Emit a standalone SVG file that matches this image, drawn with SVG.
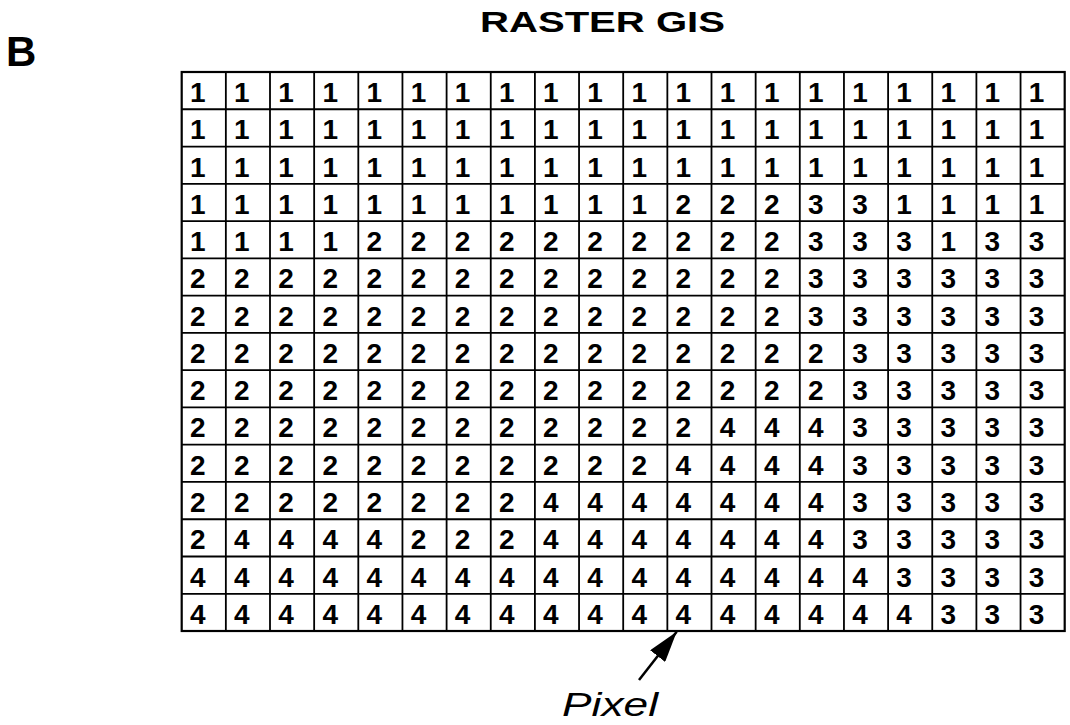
<svg xmlns="http://www.w3.org/2000/svg" width="1070" height="725" viewBox="0 0 1070 725">
<defs>
<style>
.t{font-family:"Liberation Sans",Arial,sans-serif;font-weight:bold;fill:#000}
.d{font-family:"Liberation Sans",Arial,sans-serif;font-weight:bold;font-size:28px;fill:#000;text-anchor:middle}
.gl{stroke:#000;stroke-width:1.8;fill:none}
.ob{stroke:#000;stroke-width:2.2;fill:none}
.lbl{font-family:"Liberation Sans",Arial,sans-serif;font-style:italic;font-size:33px;fill:#000}
</style>
<marker id="ah" viewBox="0 0 10 10" refX="10" refY="5" markerWidth="31" markerHeight="19" markerUnits="userSpaceOnUse" orient="auto" preserveAspectRatio="none">
<path d="M0,0 L10,5 L0,10 z" fill="#000"/>
</marker>
</defs>
<rect width="1070" height="725" fill="#fff"/>
<g id="label-b"><text class="t" x="6" y="66" font-size="42">B</text></g>
<g id="title"><text class="t" x="480" y="32" font-size="30" textLength="245" lengthAdjust="spacingAndGlyphs">RASTER GIS</text></g>
<g id="grid">
<path class="gl" d="M225.85,72V631M270,72V631M314.15,72V631M358.3,72V631M402.45,72V631M446.6,72V631M490.75,72V631M534.9,72V631M579.05,72V631M623.2,72V631M667.35,72V631M711.5,72V631M755.65,72V631M799.8,72V631M843.95,72V631M888.1,72V631M932.25,72V631M976.4,72V631M1020.55,72V631"/>
<path class="gl" d="M181.7,109.27H1064.7M181.7,146.54H1064.7M181.7,183.81H1064.7M181.7,221.08H1064.7M181.7,258.35H1064.7M181.7,295.62H1064.7M181.7,332.89H1064.7M181.7,370.16H1064.7M181.7,407.43H1064.7M181.7,444.7H1064.7M181.7,481.97H1064.7M181.7,519.24H1064.7M181.7,556.51H1064.7M181.7,593.78H1064.7"/>
<rect class="ob" x="181.7" y="72" width="883" height="559"/>
</g>
<g id="cells">
<g id="row1" transform="translate(0,102)">
<text class="d" x="197.7">1</text><text class="d" x="241.9">1</text><text class="d" x="286">1</text><text class="d" x="330.2">1</text><text class="d" x="374.3">1</text><text class="d" x="418.5">1</text><text class="d" x="462.6">1</text><text class="d" x="506.8">1</text><text class="d" x="550.9">1</text><text class="d" x="595.1">1</text><text class="d" x="639.2">1</text><text class="d" x="683.4">1</text><text class="d" x="727.5">1</text><text class="d" x="771.7">1</text><text class="d" x="815.8">1</text><text class="d" x="860">1</text><text class="d" x="904.1">1</text><text class="d" x="948.3">1</text><text class="d" x="992.4">1</text><text class="d" x="1036.6">1</text>
</g>
<g id="row2" transform="translate(0,139.3)">
<text class="d" x="197.7">1</text><text class="d" x="241.9">1</text><text class="d" x="286">1</text><text class="d" x="330.2">1</text><text class="d" x="374.3">1</text><text class="d" x="418.5">1</text><text class="d" x="462.6">1</text><text class="d" x="506.8">1</text><text class="d" x="550.9">1</text><text class="d" x="595.1">1</text><text class="d" x="639.2">1</text><text class="d" x="683.4">1</text><text class="d" x="727.5">1</text><text class="d" x="771.7">1</text><text class="d" x="815.8">1</text><text class="d" x="860">1</text><text class="d" x="904.1">1</text><text class="d" x="948.3">1</text><text class="d" x="992.4">1</text><text class="d" x="1036.6">1</text>
</g>
<g id="row3" transform="translate(0,176.5)">
<text class="d" x="197.7">1</text><text class="d" x="241.9">1</text><text class="d" x="286">1</text><text class="d" x="330.2">1</text><text class="d" x="374.3">1</text><text class="d" x="418.5">1</text><text class="d" x="462.6">1</text><text class="d" x="506.8">1</text><text class="d" x="550.9">1</text><text class="d" x="595.1">1</text><text class="d" x="639.2">1</text><text class="d" x="683.4">1</text><text class="d" x="727.5">1</text><text class="d" x="771.7">1</text><text class="d" x="815.8">1</text><text class="d" x="860">1</text><text class="d" x="904.1">1</text><text class="d" x="948.3">1</text><text class="d" x="992.4">1</text><text class="d" x="1036.6">1</text>
</g>
<g id="row4" transform="translate(0,213.8)">
<text class="d" x="197.7">1</text><text class="d" x="241.9">1</text><text class="d" x="286">1</text><text class="d" x="330.2">1</text><text class="d" x="374.3">1</text><text class="d" x="418.5">1</text><text class="d" x="462.6">1</text><text class="d" x="506.8">1</text><text class="d" x="550.9">1</text><text class="d" x="595.1">1</text><text class="d" x="639.2">1</text><text class="d" x="683.4">2</text><text class="d" x="727.5">2</text><text class="d" x="771.7">2</text><text class="d" x="815.8">3</text><text class="d" x="860">3</text><text class="d" x="904.1">1</text><text class="d" x="948.3">1</text><text class="d" x="992.4">1</text><text class="d" x="1036.6">1</text>
</g>
<g id="row5" transform="translate(0,251.1)">
<text class="d" x="197.7">1</text><text class="d" x="241.9">1</text><text class="d" x="286">1</text><text class="d" x="330.2">1</text><text class="d" x="374.3">2</text><text class="d" x="418.5">2</text><text class="d" x="462.6">2</text><text class="d" x="506.8">2</text><text class="d" x="550.9">2</text><text class="d" x="595.1">2</text><text class="d" x="639.2">2</text><text class="d" x="683.4">2</text><text class="d" x="727.5">2</text><text class="d" x="771.7">2</text><text class="d" x="815.8">3</text><text class="d" x="860">3</text><text class="d" x="904.1">3</text><text class="d" x="948.3">1</text><text class="d" x="992.4">3</text><text class="d" x="1036.6">3</text>
</g>
<g id="row6" transform="translate(0,288.4)">
<text class="d" x="197.7">2</text><text class="d" x="241.9">2</text><text class="d" x="286">2</text><text class="d" x="330.2">2</text><text class="d" x="374.3">2</text><text class="d" x="418.5">2</text><text class="d" x="462.6">2</text><text class="d" x="506.8">2</text><text class="d" x="550.9">2</text><text class="d" x="595.1">2</text><text class="d" x="639.2">2</text><text class="d" x="683.4">2</text><text class="d" x="727.5">2</text><text class="d" x="771.7">2</text><text class="d" x="815.8">3</text><text class="d" x="860">3</text><text class="d" x="904.1">3</text><text class="d" x="948.3">3</text><text class="d" x="992.4">3</text><text class="d" x="1036.6">3</text>
</g>
<g id="row7" transform="translate(0,325.6)">
<text class="d" x="197.7">2</text><text class="d" x="241.9">2</text><text class="d" x="286">2</text><text class="d" x="330.2">2</text><text class="d" x="374.3">2</text><text class="d" x="418.5">2</text><text class="d" x="462.6">2</text><text class="d" x="506.8">2</text><text class="d" x="550.9">2</text><text class="d" x="595.1">2</text><text class="d" x="639.2">2</text><text class="d" x="683.4">2</text><text class="d" x="727.5">2</text><text class="d" x="771.7">2</text><text class="d" x="815.8">3</text><text class="d" x="860">3</text><text class="d" x="904.1">3</text><text class="d" x="948.3">3</text><text class="d" x="992.4">3</text><text class="d" x="1036.6">3</text>
</g>
<g id="row8" transform="translate(0,362.9)">
<text class="d" x="197.7">2</text><text class="d" x="241.9">2</text><text class="d" x="286">2</text><text class="d" x="330.2">2</text><text class="d" x="374.3">2</text><text class="d" x="418.5">2</text><text class="d" x="462.6">2</text><text class="d" x="506.8">2</text><text class="d" x="550.9">2</text><text class="d" x="595.1">2</text><text class="d" x="639.2">2</text><text class="d" x="683.4">2</text><text class="d" x="727.5">2</text><text class="d" x="771.7">2</text><text class="d" x="815.8">2</text><text class="d" x="860">3</text><text class="d" x="904.1">3</text><text class="d" x="948.3">3</text><text class="d" x="992.4">3</text><text class="d" x="1036.6">3</text>
</g>
<g id="row9" transform="translate(0,400.2)">
<text class="d" x="197.7">2</text><text class="d" x="241.9">2</text><text class="d" x="286">2</text><text class="d" x="330.2">2</text><text class="d" x="374.3">2</text><text class="d" x="418.5">2</text><text class="d" x="462.6">2</text><text class="d" x="506.8">2</text><text class="d" x="550.9">2</text><text class="d" x="595.1">2</text><text class="d" x="639.2">2</text><text class="d" x="683.4">2</text><text class="d" x="727.5">2</text><text class="d" x="771.7">2</text><text class="d" x="815.8">2</text><text class="d" x="860">3</text><text class="d" x="904.1">3</text><text class="d" x="948.3">3</text><text class="d" x="992.4">3</text><text class="d" x="1036.6">3</text>
</g>
<g id="row10" transform="translate(0,437.4)">
<text class="d" x="197.7">2</text><text class="d" x="241.9">2</text><text class="d" x="286">2</text><text class="d" x="330.2">2</text><text class="d" x="374.3">2</text><text class="d" x="418.5">2</text><text class="d" x="462.6">2</text><text class="d" x="506.8">2</text><text class="d" x="550.9">2</text><text class="d" x="595.1">2</text><text class="d" x="639.2">2</text><text class="d" x="683.4">2</text><text class="d" x="727.5">4</text><text class="d" x="771.7">4</text><text class="d" x="815.8">4</text><text class="d" x="860">3</text><text class="d" x="904.1">3</text><text class="d" x="948.3">3</text><text class="d" x="992.4">3</text><text class="d" x="1036.6">3</text>
</g>
<g id="row11" transform="translate(0,474.7)">
<text class="d" x="197.7">2</text><text class="d" x="241.9">2</text><text class="d" x="286">2</text><text class="d" x="330.2">2</text><text class="d" x="374.3">2</text><text class="d" x="418.5">2</text><text class="d" x="462.6">2</text><text class="d" x="506.8">2</text><text class="d" x="550.9">2</text><text class="d" x="595.1">2</text><text class="d" x="639.2">2</text><text class="d" x="683.4">4</text><text class="d" x="727.5">4</text><text class="d" x="771.7">4</text><text class="d" x="815.8">4</text><text class="d" x="860">3</text><text class="d" x="904.1">3</text><text class="d" x="948.3">3</text><text class="d" x="992.4">3</text><text class="d" x="1036.6">3</text>
</g>
<g id="row12" transform="translate(0,512)">
<text class="d" x="197.7">2</text><text class="d" x="241.9">2</text><text class="d" x="286">2</text><text class="d" x="330.2">2</text><text class="d" x="374.3">2</text><text class="d" x="418.5">2</text><text class="d" x="462.6">2</text><text class="d" x="506.8">2</text><text class="d" x="550.9">4</text><text class="d" x="595.1">4</text><text class="d" x="639.2">4</text><text class="d" x="683.4">4</text><text class="d" x="727.5">4</text><text class="d" x="771.7">4</text><text class="d" x="815.8">4</text><text class="d" x="860">3</text><text class="d" x="904.1">3</text><text class="d" x="948.3">3</text><text class="d" x="992.4">3</text><text class="d" x="1036.6">3</text>
</g>
<g id="row13" transform="translate(0,549.2)">
<text class="d" x="197.7">2</text><text class="d" x="241.9">4</text><text class="d" x="286">4</text><text class="d" x="330.2">4</text><text class="d" x="374.3">4</text><text class="d" x="418.5">2</text><text class="d" x="462.6">2</text><text class="d" x="506.8">2</text><text class="d" x="550.9">4</text><text class="d" x="595.1">4</text><text class="d" x="639.2">4</text><text class="d" x="683.4">4</text><text class="d" x="727.5">4</text><text class="d" x="771.7">4</text><text class="d" x="815.8">4</text><text class="d" x="860">3</text><text class="d" x="904.1">3</text><text class="d" x="948.3">3</text><text class="d" x="992.4">3</text><text class="d" x="1036.6">3</text>
</g>
<g id="row14" transform="translate(0,586.5)">
<text class="d" x="197.7">4</text><text class="d" x="241.9">4</text><text class="d" x="286">4</text><text class="d" x="330.2">4</text><text class="d" x="374.3">4</text><text class="d" x="418.5">4</text><text class="d" x="462.6">4</text><text class="d" x="506.8">4</text><text class="d" x="550.9">4</text><text class="d" x="595.1">4</text><text class="d" x="639.2">4</text><text class="d" x="683.4">4</text><text class="d" x="727.5">4</text><text class="d" x="771.7">4</text><text class="d" x="815.8">4</text><text class="d" x="860">4</text><text class="d" x="904.1">3</text><text class="d" x="948.3">3</text><text class="d" x="992.4">3</text><text class="d" x="1036.6">3</text>
</g>
<g id="row15" transform="translate(0,623.8)">
<text class="d" x="197.7">4</text><text class="d" x="241.9">4</text><text class="d" x="286">4</text><text class="d" x="330.2">4</text><text class="d" x="374.3">4</text><text class="d" x="418.5">4</text><text class="d" x="462.6">4</text><text class="d" x="506.8">4</text><text class="d" x="550.9">4</text><text class="d" x="595.1">4</text><text class="d" x="639.2">4</text><text class="d" x="683.4">4</text><text class="d" x="727.5">4</text><text class="d" x="771.7">4</text><text class="d" x="815.8">4</text><text class="d" x="860">4</text><text class="d" x="904.1">4</text><text class="d" x="948.3">3</text><text class="d" x="992.4">3</text><text class="d" x="1036.6">3</text>
</g>
</g>
<g id="connectors">
<line x1="639" y1="680" x2="676.7" y2="631.7" stroke="#000" stroke-width="2.5" marker-end="url(#ah)"/>
</g>
<g id="pixel-label"><text class="lbl" x="562" y="716" textLength="96" lengthAdjust="spacingAndGlyphs">Pixel</text></g>
</svg>
